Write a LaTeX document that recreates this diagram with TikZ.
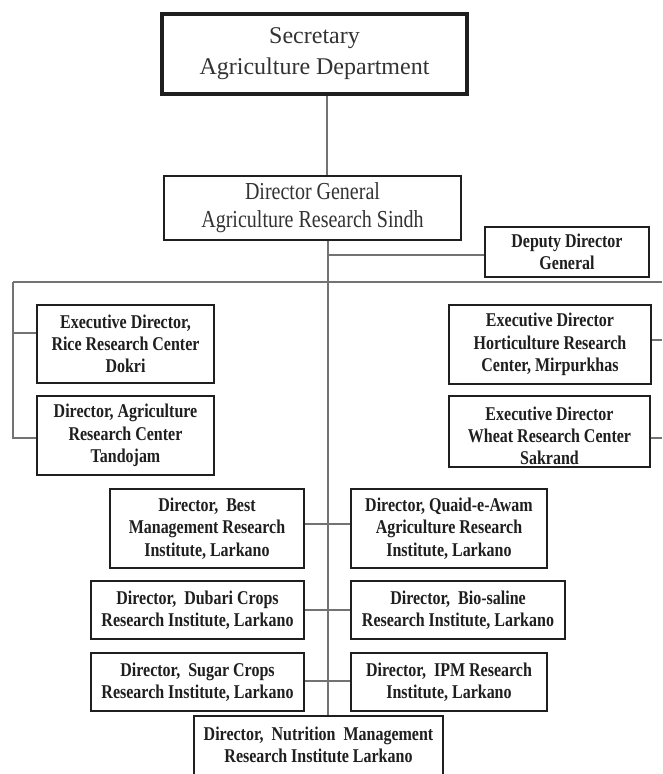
\documentclass[tikz,border=0pt]{standalone}
\usepackage{fontspec}
\setmainfont{Liberation Serif}[FakeStretch=0.82]
\newfontfamily\secfont{Liberation Serif}
\begin{document}
\begin{tikzpicture}[x=1pt,y=-1pt,
  box/.style={draw=black!88, line width=1.7pt, inner sep=0pt, align=center,
    text=black!88, font=\bfseries\fontsize{19.5}{22.3}\selectfont},
  topbox/.style={box, font=\fontsize{24.4}{28}\selectfont, text=black!80},
  secbox/.style={box, line width=3.2pt, font=\secfont\fontsize{24}{31}\selectfont, text=black!80},
  lbl/.style={align=center, inner sep=0pt, text=black!88, font=\bfseries\fontsize{19.5}{22.3}\selectfont},
  conn/.style={draw=black!55, line width=1.3pt}]
\useasboundingbox (0,0) rectangle (662,774);
\clip (0,0) rectangle (662,774);
\fill[white] (0,0) rectangle (662,774);

% boxes
\node[secbox, minimum width=305pt, minimum height=80pt] (sec) at (314.5,54) {Secretary\\Agriculture Department};
\node[topbox, minimum width=297pt, minimum height=64pt] (dg) at (312.5,208) {Director General\\Agriculture Research Sindh};
\node[box, minimum width=164pt, minimum height=50pt] (ddg) at (567,252) {Deputy Director\\General};

\node[box, minimum width=177pt, minimum height=78pt] (rice) at (125.5,344) {Executive Director,\\Rice Research Center\\Dokri};
\node[box, minimum width=177pt, minimum height=79pt] (tando) at (125.5,435.5) {Director, Agriculture\\Research Center\\Tandojam};
\node[box, minimum width=202pt, minimum height=79pt] (hort) at (550,344.5) {Executive Director\\Horticulture Research\\Center, Mirpurkhas};
\node[box, minimum width=201pt, minimum height=71pt,
  label={[lbl, yshift=-4.5pt]center:{Executive Director\\Wheat Research Center\\Sakrand}}] (wheat) at (549.5,431.5) {};

\node[box, minimum width=194pt, minimum height=79pt] (best) at (207,528.5) {Director,\ \ Best\\Management Research\\Institute, Larkano};
\node[box, minimum width=196pt, minimum height=79pt] (quaid) at (449,528.5) {Director, Quaid-e-Awam\\Agriculture Research\\Institute, Larkano};
\node[box, minimum width=213pt, minimum height=58pt] (dubari) at (197.5,610) {Director,\ \ Dubari Crops\\Research Institute, Larkano};
\node[box, minimum width=214pt, minimum height=58pt] (bio) at (458,610) {Director,\ \ Bio-saline\\Research Institute, Larkano};
\node[box, minimum width=213pt, minimum height=58pt] (sugar) at (197.5,682) {Director,\ \ Sugar Crops\\Research Institute, Larkano};
\node[box, minimum width=196pt, minimum height=58pt] (ipm) at (449,682) {Director,\ \ IPM Research\\Institute, Larkano};
\node[box, minimum width=249pt, minimum height=64pt,
  label={[lbl, yshift=3pt]center:{Director,\ \ Nutrition\ \ Management\\Research Institute Larkano}}] (nut) at (318.5,748) {};

% connectors
\coordinate (top) at (327,0);
\coordinate (sp) at (328,0);
\draw[conn] (sec.south -| top) -- (dg.north -| top);
\draw[conn] (dg.south -| sp) -- (nut.north -| sp);
\coordinate (ddgy) at (0,255);
\draw[conn] (sp |- ddgy) -- (ddg.west |- ddgy);
\coordinate (barL) at (13,282);
\coordinate (barR) at (662,282);
\draw[conn] (barL) -- (barR);
\coordinate (ry) at (0,333);
\coordinate (ty) at (0,438);
\draw[conn] (barL) -- (barL |- ty) -- (tando.west |- ty);
\draw[conn] (barL |- ry) -- (rice.west |- ry);
\coordinate (hy) at (0,340);
\coordinate (wy) at (0,438);
\draw[conn] (hort.east |- hy) -- (barR |- hy);
\draw[conn] (wheat.east |- wy) -- (barR |- wy);
\coordinate (p1) at (0,524);
\coordinate (p2) at (0,610);
\coordinate (p3) at (0,681);
\draw[conn] (best.east |- p1) -- (quaid.west |- p1);
\draw[conn] (dubari.east |- p2) -- (bio.west |- p2);
\draw[conn] (sugar.east |- p3) -- (ipm.west |- p3);
\end{tikzpicture}
\end{document}
